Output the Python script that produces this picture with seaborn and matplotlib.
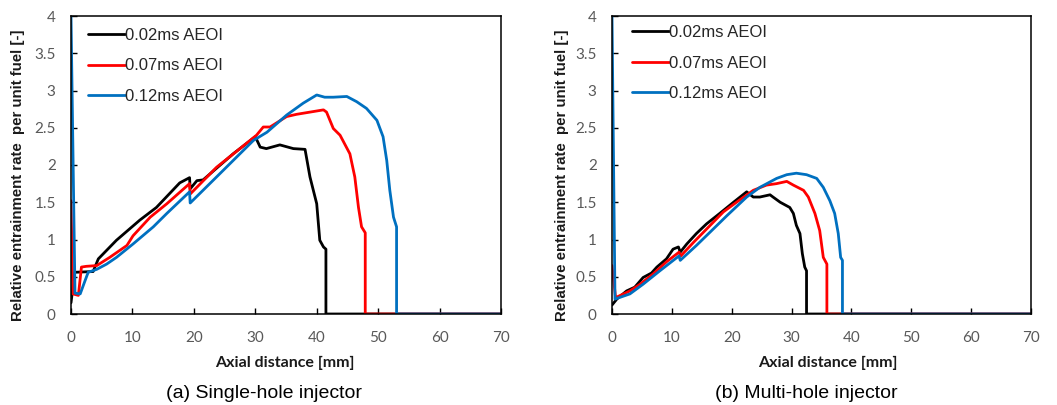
import matplotlib
matplotlib.use("Agg")
import matplotlib.pyplot as plt
from matplotlib import font_manager
from matplotlib.ticker import FuncFormatter
import seaborn as sns
import pandas as pd

# Axial distance [mm] and relative entrainment rate for each injector / timing
single_002_x = [0, 0.15, 0.6, 3.6, 4.45, 7.4, 11.2, 13.9, 17.7, 19.3, 19.4, 20.5, 21.5, 26.4,
                30.0, 30.8, 31.8, 34.0, 36.2, 38.1, 38.9, 40.0, 40.5, 41.1, 41.5, 41.5, 70]
single_002_y = [0.15, 0.25, 0.56, 0.57, 0.74, 0.99, 1.26, 1.43, 1.76, 1.83, 1.68, 1.79, 1.80, 2.15,
                2.38, 2.24, 2.22, 2.27, 2.22, 2.21, 1.84, 1.48, 0.99, 0.90, 0.87, 0, 0]

single_007_x = [0, 0.3, 1.2, 1.7, 2.5, 4.2, 6.3, 9.1, 10.1, 12.9, 15.6, 19.3, 19.4, 23.7, 27.5,
                30.2, 31.3, 32.4, 35.1, 36.7, 38.9, 41.1, 41.6, 42.7, 43.8, 45.4, 46.2, 46.8,
                47.3, 47.9, 47.9, 70]
single_007_y = [1.52, 0.27, 0.25, 0.63, 0.64, 0.65, 0.76, 0.92, 1.05, 1.30, 1.48, 1.75, 1.61, 1.97, 2.22,
                2.40, 2.51, 2.51, 2.65, 2.68, 2.71, 2.74, 2.71, 2.49, 2.40, 2.15, 1.84, 1.43,
                1.17, 1.09, 0, 0]

single_012_x = [0, 0.65, 1.5, 2.3, 2.8, 4.2, 5.8, 7.4, 10.1, 13.4, 15.6, 19.3, 19.4, 23.7, 29.7,
                31.9, 35.1, 37.8, 40.0, 41.3, 42.7, 44.9, 46.5, 48.1, 49.8, 50.8, 51.4, 51.9,
                52.5, 53.0, 53.0, 70]
single_012_y = [4.0, 0.28, 0.27, 0.45, 0.56, 0.60, 0.67, 0.76, 0.94, 1.17, 1.35, 1.64, 1.49, 1.84, 2.33,
                2.44, 2.67, 2.83, 2.94, 2.91, 2.91, 2.92, 2.85, 2.76, 2.60, 2.38, 2.06, 1.66,
                1.30, 1.17, 0, 0]

multi_002_x = [0, 0.8, 2.45, 3.8, 5.2, 6.6, 7.5, 9.1, 10.2, 11.1, 11.4, 12.5, 14.1, 15.8, 18.0,
               20.3, 22.5, 23.6, 24.7, 26.4, 26.9, 28.1, 29.7, 30.3, 30.8, 31.4, 31.8, 32.2,
               32.5, 32.5, 70]
multi_002_y = [0.12, 0.20, 0.31, 0.36, 0.49, 0.55, 0.63, 0.74, 0.87, 0.90, 0.83, 0.94, 1.08, 1.21, 1.35,
               1.50, 1.64, 1.57, 1.57, 1.60, 1.57, 1.50, 1.43, 1.35, 1.19, 1.08, 0.81, 0.63,
               0.58, 0, 0]

multi_007_x = [0, 0.6, 3.0, 4.7, 6.9, 9.1, 11.2, 11.5, 13.6, 15.8, 18.6, 20.8, 23.6, 25.8, 27.5,
               29.2, 30.3, 32.0, 32.8, 33.9, 34.7, 35.3, 35.9, 35.9, 70]
multi_007_y = [0.65, 0.22, 0.31, 0.40, 0.54, 0.70, 0.83, 0.78, 0.96, 1.14, 1.37, 1.50, 1.66, 1.73, 1.75,
               1.78, 1.73, 1.66, 1.57, 1.35, 1.12, 0.76, 0.67, 0, 0]

multi_012_x = [0, 0.5, 3.0, 5.2, 8.0, 11.2, 11.4, 14.1, 16.4, 19.2, 22.5, 24.7, 27.5, 29.2, 30.8,
               32.5, 34.2, 35.3, 36.4, 37.2, 37.8, 38.2, 38.5, 38.5, 70]
multi_012_y = [4.0, 0.20, 0.27, 0.40, 0.58, 0.78, 0.72, 0.92, 1.10, 1.32, 1.57, 1.70, 1.82, 1.87, 1.89,
               1.87, 1.82, 1.70, 1.52, 1.35, 1.08, 0.76, 0.72, 0, 0]

series_labels = ["0.02ms AEOI", "0.07ms AEOI", "0.12ms AEOI"]
series_colors = ["#000000", "#FF0000", "#0070C0"]
x_ticks = [0, 10, 20, 30, 40, 50, 60, 70]
y_ticks = [0, 0.5, 1, 1.5, 2, 2.5, 3, 3.5, 4]
panel_captions = ["(a) Single-hole injector", "(b) Multi-hole injector"]
x_title = "Axial distance [mm]"
y_title = "Relative entrainment rate  per unit fuel [-]"

panels = [
    [(single_002_x, single_002_y), (single_007_x, single_007_y), (single_012_x, single_012_y)],
    [(multi_002_x, multi_002_y), (multi_007_x, multi_007_y), (multi_012_x, multi_012_y)],
]

sns.set_theme(style="white")
installed = {f.name for f in font_manager.fontManager.ttflist}
narrow = "Liberation Sans Narrow" if "Liberation Sans Narrow" in installed else "Liberation Sans"
plt.rcParams["font.family"] = ["Liberation Sans", "DejaVu Sans"]

fig = plt.figure(figsize=(10.57, 4.05), dpi=100)
axes_boxes = [
    [71 / 1057, 1 - 314 / 405, 430 / 1057, 298 / 405],
    [612 / 1057, 1 - 314 / 405, 419 / 1057, 298 / 405],
]
ylabel_x = [18, 562]
xlabel_cx = [285, 828]
caption_cx = [264, 806]
legend_anchor = [(88, 28), (632, 25)]

for p, (box, series) in enumerate(zip(axes_boxes, panels)):
    ax = fig.add_axes(box)
    for (xs, ys), lab, col in zip(series, series_labels, series_colors):
        df = pd.DataFrame({"x": xs, "y": ys})
        sns.lineplot(data=df, x="x", y="y", ax=ax, color=col, lw=2.0, label=lab,
                     sort=False, estimator=None)
    ax.set_xlim(0, 70)
    ax.set_ylim(0, 4)
    ax.set_xticks(x_ticks)
    ax.set_yticks(y_ticks)
    ax.yaxis.set_major_formatter(FuncFormatter(lambda v, _: f"{v:g}"))
    for s in ax.spines.values():
        s.set_visible(True)
        s.set_color("black")
        s.set_linewidth(1.1)
    ax.tick_params(axis="both", direction="in", length=4, width=1.0, color="black",
                   labelcolor="#595959", labelsize=11)
    ax.tick_params(axis="x", pad=12.5, bottom=True)
    ax.tick_params(axis="y", pad=11, left=True)
    for t in ax.get_xticklabels() + ax.get_yticklabels():
        t.set_fontfamily("Lato")
    ax.set_xlabel("")
    ax.set_ylabel("")
    # axis titles and caption placed in figure pixels
    fig.text(xlabel_cx[p] / 1057, 1 - 363 / 405, x_title, ha="center", va="center",
             fontsize=11.5, fontweight="bold", family="Lato", color="#1a1a1a")
    fig.text(ylabel_x[p] / 1057, 1 - 175 / 405, y_title, ha="center", va="center",
             rotation=90, fontsize=10.8, fontweight="bold", color="#1a1a1a")
    fig.text(caption_cx[p] / 1057, 1 - 393 / 405, panel_captions[p], ha="center",
             va="center", fontsize=14, family=narrow, color="black")
    lx, ly = legend_anchor[p]
    bx = (lx - box[0] * 1057) / (box[2] * 1057)
    by = (314 - ly) / 298
    ax.legend(loc="upper left", bbox_to_anchor=(bx, by), frameon=False, fontsize=12,
              handlelength=2.2, handletextpad=0.0, borderpad=0, borderaxespad=0,
              labelspacing=0.93)

fig.savefig("out.png", dpi=100)
